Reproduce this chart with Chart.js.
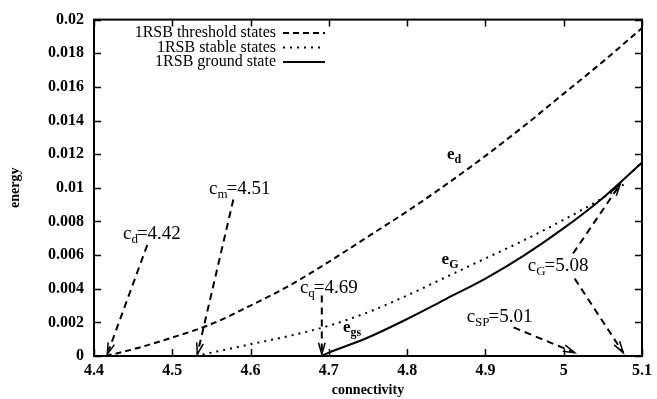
<!DOCTYPE html>
<html lang="en">
<head>
<meta charset="UTF-8" />
<title>1RSB energies</title>
<script src="https://cdn.jsdelivr.net/npm/chart.js@4.4.1/dist/chart.umd.min.js"></script>
<style>
  body { margin: 0; background: #fff; }
</style>
</head>
<body>
<canvas id="myChart" width="657" height="399"></canvas>
<script>
// threshold states (e_d)
const cThreshold = [4.415, 4.45, 4.5, 4.55, 4.6, 4.65, 4.7, 4.75, 4.8, 4.85, 4.9, 4.95, 5.0, 5.05, 5.1];
const eThreshold = [0, 0.0004, 0.0011, 0.0019, 0.0030, 0.0042, 0.0056, 0.0071, 0.0086, 0.0102, 0.0119, 0.0137, 0.0156, 0.0175, 0.0195];
// stable states (e_G)
const cStable = [4.53, 4.55, 4.6, 4.65, 4.7, 4.75, 4.8, 4.85, 4.9, 4.95, 5.0, 5.05, 5.08];
const eStable = [0, 0.0002, 0.0007, 0.0012, 0.0018, 0.0026, 0.0036, 0.0047, 0.0058, 0.0069, 0.0081, 0.0094, 0.0103];
// ground state (e_gs)
const cGround = [4.69, 4.7, 4.75, 4.8, 4.85, 4.9, 4.95, 5.0, 5.05, 5.1];
const eGround = [0, 0.0002, 0.0011, 0.0022, 0.0034, 0.0046, 0.0060, 0.0076, 0.0094, 0.0115];

const xTicks = [4.4, 4.5, 4.6, 4.7, 4.8, 4.9, 5.0, 5.1];
const xTickLabels = ["4.4", "4.5", "4.6", "4.7", "4.8", "4.9", "5", "5.1"];
const yTicks = [0, 0.002, 0.004, 0.006, 0.008, 0.01, 0.012, 0.014, 0.016, 0.018, 0.02];
const yTickLabels = ["0", "0.002", "0.004", "0.006", "0.008", "0.01", "0.012", "0.014", "0.016", "0.018", "0.02"];

const seriesNames = ["1RSB threshold states", "1RSB stable states", "1RSB ground state"];

// arrows: [c from, e from, c to, e to]
const arrows = [
  [4.468, 0.0066, 4.417, 0.0001],
  [4.578, 0.0093, 4.532, 0.0001],
  [4.691, 0.0036, 4.691, 0.0001],
  [4.936, 0.0017, 5.014, 0.0002],
  [5.012, 0.0061, 5.072, 0.0102],
  [5.014, 0.0046, 5.076, 0.0002]
];
// labels: [main, subscript, rest, c, e, bold]
const labels = [
  ["c", "d", "=4.42", 4.437, 0.00724, false],
  ["c", "m", "=4.51", 4.547, 0.0099, false],
  ["c", "q", "=4.69", 4.663, 0.00406, false],
  ["c", "SP", "=5.01", 4.876, 0.0023, false],
  ["c", "G", "=5.08", 4.954, 0.00535, false],
  ["e", "d", "", 4.851, 0.0120, true],
  ["e", "G", "", 4.844, 0.00576, true],
  ["e", "gs", "", 4.718, 0.0017, true]
];

function pts(cs, es) {
  return cs.map((c, i) => ({ x: c, y: es[i] }));
}

Chart.defaults.font.family = "'Liberation Serif', serif";
Chart.defaults.color = "#000";

// frame, inward ticks, legend, arrows, labels
const gnuplotLook = {
  id: "gnuplotLook",
  afterDatasetsDraw(chart) {
    const ctx = chart.ctx;
    const a = chart.chartArea;
    const xs = chart.scales.x, ys = chart.scales.y;
    ctx.save();
    ctx.strokeStyle = "#000";
    ctx.lineWidth = 2;
    ctx.setLineDash([]);
    ctx.strokeRect(a.left, a.top, a.right - a.left, a.bottom - a.top);
    ctx.lineWidth = 1.5;
    ctx.beginPath();
    xTicks.forEach(v => {
      const px = Math.round(xs.getPixelForValue(v)) + 0.5;
      ctx.moveTo(px, a.bottom); ctx.lineTo(px, a.bottom - 7);
      ctx.moveTo(px, a.top); ctx.lineTo(px, a.top + 7);
    });
    yTicks.forEach(v => {
      const py = Math.round(ys.getPixelForValue(v)) + 0.5;
      ctx.moveTo(a.left, py); ctx.lineTo(a.left + 7, py);
      ctx.moveTo(a.right, py); ctx.lineTo(a.right - 7, py);
    });
    ctx.stroke();

    // legend, text right aligned, sample line on the right
    ctx.font = "16px 'Liberation Serif'";
    ctx.textAlign = "right";
    ctx.textBaseline = "middle";
    chart.data.datasets.forEach((ds, i) => {
      const y = 33 + i * 14.5;
      ctx.fillStyle = "#000";
      ctx.fillText(ds.label, 276, y);
      ctx.setLineDash(ds.borderDash || []);
      ctx.lineWidth = ds.borderWidth;
      ctx.beginPath();
      ctx.moveTo(283, y); ctx.lineTo(325, y);
      ctx.stroke();
    });

    // arrows
    arrows.forEach(([c0, e0, c1, e1]) => {
      const x0 = xs.getPixelForValue(c0), y0 = ys.getPixelForValue(e0);
      const x1 = xs.getPixelForValue(c1), y1 = ys.getPixelForValue(e1);
      ctx.lineWidth = 2;
      ctx.setLineDash([7, 5]);
      ctx.beginPath();
      ctx.moveTo(x0, y0); ctx.lineTo(x1, y1);
      ctx.stroke();
      const ang = Math.atan2(y1 - y0, x1 - x0);
      const len = 12, spread = 0.28;
      ctx.setLineDash([]);
      ctx.lineWidth = 1.5;
      ctx.beginPath();
      ctx.moveTo(x1 - len * Math.cos(ang - spread), y1 - len * Math.sin(ang - spread));
      ctx.lineTo(x1, y1);
      ctx.lineTo(x1 - len * Math.cos(ang + spread), y1 - len * Math.sin(ang + spread));
      ctx.stroke();
    });

    // labels with subscripts
    ctx.textAlign = "left";
    ctx.textBaseline = "alphabetic";
    labels.forEach(([m, sub, rest, c, e, bold]) => {
      let x = xs.getPixelForValue(c);
      const y = ys.getPixelForValue(e) + 5;
      const big = bold ? "bold 17px 'Liberation Serif'" : "19px 'Liberation Serif'";
      const small = bold ? "bold 12px 'Liberation Serif'" : "13px 'Liberation Serif'";
      ctx.font = big;
      ctx.fillText(m, x, y);
      x += ctx.measureText(m).width;
      ctx.font = small;
      ctx.fillText(sub, x, y + 4);
      x += ctx.measureText(sub).width;
      ctx.font = big;
      ctx.fillText(rest, x - 1, y);
    });
    ctx.restore();
  }
};

const ctx = document.getElementById("myChart").getContext("2d");
const myChart = new Chart(ctx, {
  type: "line",
  data: {
    datasets: [
      {
        label: seriesNames[0],
        data: pts(cThreshold, eThreshold),
        borderColor: "#000",
        borderWidth: 2,
        borderDash: [6, 4],
        pointRadius: 0,
        cubicInterpolationMode: "monotone"
      },
      {
        label: seriesNames[1],
        data: pts(cStable, eStable),
        borderColor: "#000",
        borderWidth: 2,
        borderDash: [2, 5],
        pointRadius: 0,
        cubicInterpolationMode: "monotone"
      },
      {
        label: seriesNames[2],
        data: pts(cGround, eGround),
        borderColor: "#000",
        borderWidth: 2,
        pointRadius: 0,
        cubicInterpolationMode: "monotone"
      }
    ]
  },
  options: {
    responsive: false,
    animation: false,
    layout: { padding: { top: 16, right: 15, left: 0, bottom: 0 } },
    plugins: {
      legend: { display: false },
      tooltip: { enabled: false }
    },
    scales: {
      x: {
        type: "linear",
        min: 4.4,
        max: 5.1,
        afterBuildTicks: s => { s.ticks = xTicks.map(v => ({ value: v })); },
        afterFit: s => { s.height = 43; },
        grid: { display: false, drawTicks: false },
        border: { display: false },
        ticks: {
          padding: 5,
          maxRotation: 0,
          font: { size: 16, weight: "bold" },
          callback: (v, i) => xTickLabels[i]
        },
        title: {
          display: true,
          text: "connectivity",
          font: { size: 14, weight: "bold" },
          padding: { top: 2, bottom: 0 }
        }
      },
      y: {
        type: "linear",
        min: 0,
        max: 0.02,
        afterBuildTicks: s => { s.ticks = yTicks.map(v => ({ value: v })); },
        afterFit: s => { s.width = 94; },
        grid: { display: false, drawTicks: false },
        border: { display: false },
        ticks: {
          padding: 10,
          font: { size: 16, weight: "bold" },
          callback: (v, i) => yTickLabels[i]
        },
        title: {
          display: true,
          text: "energy",
          font: { size: 14, weight: "bold" },
          padding: { top: 7, bottom: 0 }
        }
      }
    }
  },
  plugins: [gnuplotLook]
});
</script>
</body>
</html>
